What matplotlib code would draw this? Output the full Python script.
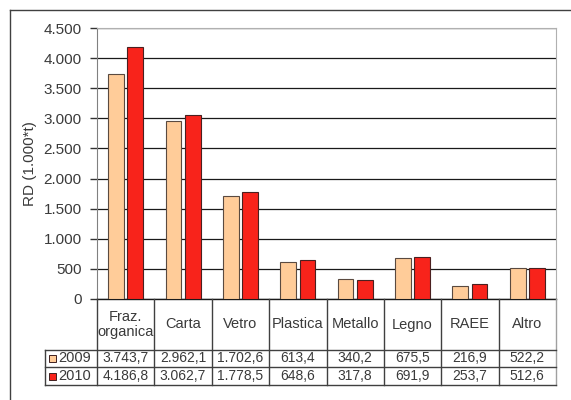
import matplotlib
matplotlib.use('Agg')
import matplotlib.pyplot as plt
from matplotlib.lines import Line2D
from matplotlib.patches import Rectangle
from matplotlib.ticker import FuncFormatter, MultipleLocator

# data
categories = ['Fraz.\norganica', 'Carta', 'Vetro', 'Plastica', 'Metallo', 'Legno', 'RAEE', 'Altro']
years = ['2009', '2010']
rd_2009 = [3743.7, 2962.1, 1702.6, 613.4, 340.2, 675.5, 216.9, 522.2]
rd_2010 = [4186.8, 3062.7, 1778.5, 648.6, 317.8, 691.9, 253.7, 512.6]
y_label = 'RD (1.000*t)'

col_2009 = '#FFCC99'
col_2010 = '#F8231B'
txt = '#3a3a3a'
W, H = 571, 400

plt.rcParams['font.family'] = ['Liberation Sans', 'DejaVu Sans']
fig = plt.figure(figsize=(W / 100, H / 100), dpi=100)


def fx(px):
    return px / W


def fy(py):
    return 1 - py / H


# plot area in pixels
left, right, top, bottom = 97, 556, 28, 299
ax = fig.add_axes([fx(left), fy(bottom), fx(right - left), (bottom - top) / H])

n = len(categories)
xs = list(range(n))
bw = 0.275
off = 0.168
ax.bar([x - off for x in xs], rd_2009, width=bw, color=col_2009, edgecolor='#5a4a40', linewidth=0.8, zorder=3)
ax.bar([x + off for x in xs], rd_2010, width=bw, color=col_2010, edgecolor='#4a2020', linewidth=0.8, zorder=3)

ax.set_xlim(-0.5, n - 0.5)
ax.set_ylim(0, 4500)
ax.yaxis.set_major_locator(MultipleLocator(500))
ax.yaxis.set_major_formatter(FuncFormatter(lambda v, p: '{:,.0f}'.format(v).replace(',', '.')))
ax.set_xticks([])
ax.grid(axis='y', color='#1a1a1a', linewidth=0.9, zorder=0)
ax.tick_params(axis='y', direction='out', length=5, width=1, color='#333333',
               labelsize=11, labelcolor=txt, pad=6)
for s in ['top', 'right']:
    ax.spines[s].set_color('#b0b0b0')
ax.spines['left'].set_color('#808080')
ax.spines['bottom'].set_color('#1a1a1a')
ax.spines['bottom'].set_linewidth(1.0)

fig.text(fx(30), fy((top + bottom) / 2), y_label, rotation=90, ha='center', va='center',
         fontsize=11, color=txt)

# data table under the chart
line_c = '#404040'
cat_w = (right - left) / n
tab_left = 45
hdr_bot = 350
row_mid = 367
tab_bot = 385


def hline(y, x0, x1, c=line_c):
    fig.add_artist(Line2D([fx(x0), fx(x1)], [fy(y), fy(y)], color=c, linewidth=1.0))


def vline(x, y0, y1, c=line_c):
    fig.add_artist(Line2D([fx(x), fx(x)], [fy(y0), fy(y1)], color=c, linewidth=1.0))


for i in range(n + 1):
    xb = left + i * cat_w
    c = '#a0a0a0' if i == n else line_c
    vline(xb, bottom, tab_bot, c)
vline(tab_left, hdr_bot, tab_bot)
hline(hdr_bot, tab_left, right)
hline(row_mid, tab_left, right)
hline(tab_bot, tab_left, right)

for i, cat in enumerate(categories):
    xc = left + (i + 0.5) * cat_w
    fig.text(fx(xc), fy((bottom + hdr_bot) / 2), cat, ha='center', va='center',
             fontsize=10.5, color=txt, linespacing=1.15)


def fmt(v):
    return '{:,.1f}'.format(v).replace(',', 'X').replace('.', ',').replace('X', '.')


rows = [(rd_2009, col_2009, (hdr_bot + row_mid) / 2), (rd_2010, col_2010, (row_mid + tab_bot) / 2)]
for (vals, col, ym), yr in zip(rows, years):
    fig.add_artist(Rectangle((fx(48.5), fy(ym + 3.5)), fx(7), 7 / H, facecolor=col,
                             edgecolor='#402020', linewidth=0.7))
    fig.text(fx(58), fy(ym), yr, ha='left', va='center', fontsize=10.5, color=txt)
    for i, v in enumerate(vals):
        xc = left + (i + 0.5) * cat_w
        fig.text(fx(xc), fy(ym), fmt(v), ha='center', va='center', fontsize=10, color=txt)

# outer frame (runs off the right and bottom edges)
fig.add_artist(Line2D([fx(10), fx(10)], [fy(10), 0], color='#404040', linewidth=1.0))
fig.add_artist(Line2D([fx(10), 1], [fy(10), fy(10)], color='#404040', linewidth=1.0))

fig.savefig('out.png', dpi=100, facecolor='white')
